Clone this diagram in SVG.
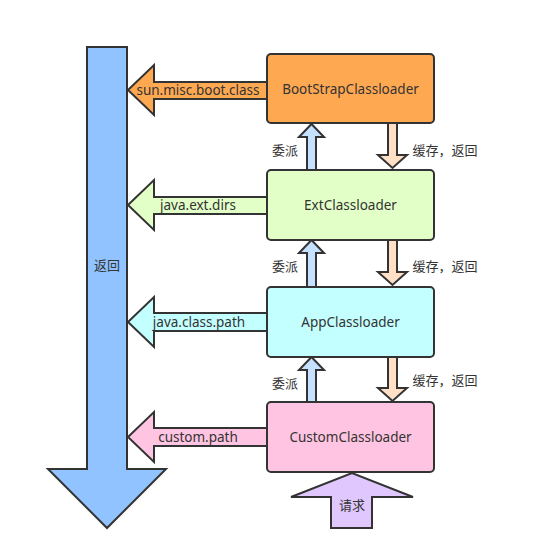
<svg xmlns="http://www.w3.org/2000/svg" width="557" height="560" viewBox="0 0 557 560">
<style>
.s{stroke:#333;stroke-width:2;stroke-linejoin:miter}
.t{font-family:"Noto Sans","Noto Sans CJK SC",sans-serif;font-size:13.5px;fill:#333;text-anchor:middle;dominant-baseline:central}
.c{font-size:13px}
.up{fill:#C6E0FF}
.dn{fill:#FFE0C6}
</style>
<rect width="557" height="560" fill="#fff"/>
<g id="connectors">
<g id="return">
<polygon class="s" fill="#90C3FF" points="87,47 127,47 127,469 166,469 107,528 48,469 87,469"/>
<text class="t c" x="107" y="265">返回</text>
</g>
<g id="a-boot">
<polygon class="s" fill="#FFA852" points="280,82 154,82 154,65 128,90 154,115 154,99 280,99"/>
<text class="t" x="198" y="90">sun.misc.boot.class</text>
</g>
<g id="a-ext">
<polygon class="s" fill="#E2FFC8" points="280,197 154,197 154,180 128,205 154,230 154,214 280,214"/>
<text class="t" x="198" y="205">java.ext.dirs</text>
</g>
<g id="a-app">
<polygon class="s" fill="#C4FFFF" points="280,313 154,313 154,297 128,322 154,347 154,331 280,331"/>
<text class="t" x="199" y="322">java.class.path</text>
</g>
<g id="a-custom">
<polygon class="s" fill="#FFC4E1" points="280,428 154,428 154,412 128,437 154,462 154,446 280,446"/>
<text class="t" x="198" y="437">custom.path</text>
</g>
<g id="deleg1">
<polygon class="s up" points="307,170 307,137 299,137 311.5,124 324,137 316,137 316,170"/>
<text class="t c" x="285" y="150">委派</text>
</g>
<g id="cache1">
<polygon class="s dn" points="388,123 397,123 397,155 407,155 392.5,168 378,155 388,155"/>
<text class="t c" x="445" y="150">缓存，返回</text>
</g>
<g id="deleg2">
<polygon class="s up" points="307,287 307,253 299,253 311.5,240 324,253 316,253 316,287"/>
<text class="t c" x="285" y="266">委派</text>
</g>
<g id="cache2">
<polygon class="s dn" points="388,240 397,240 397,272 407,272 392.5,285 378,272 388,272"/>
<text class="t c" x="445" y="266">缓存，返回</text>
</g>
<g id="deleg3">
<polygon class="s up" points="307,402 307,370 299,370 311.5,357 324,370 316,370 316,402"/>
<text class="t c" x="285" y="383">委派</text>
</g>
<g id="cache3">
<polygon class="s dn" points="388,357 397,357 397,388 407,388 392.5,401 378,388 388,388"/>
<text class="t c" x="445" y="380">缓存，返回</text>
</g>
<g id="request">
<polygon class="s" fill="#E0C8FF" points="331,528 331,497 291,497 352,473 413,497 372,497 372,528"/>
<text class="t c" x="352" y="505">请求</text>
</g>
</g>
<g id="boot">
<rect class="s" x="267" y="54" width="167" height="69" rx="4" fill="#FFA852"/>
<text class="t" x="350.5" y="89">BootStrapClassloader</text>
</g>
<g id="ext">
<rect class="s" x="267" y="170" width="167" height="70" rx="4" fill="#E2FFC8"/>
<text class="t" x="350.5" y="205">ExtClassloader</text>
</g>
<g id="app">
<rect class="s" x="267" y="287" width="167" height="70" rx="4" fill="#C4FFFF"/>
<text class="t" x="350.5" y="322">AppClassloader</text>
</g>
<g id="custom">
<rect class="s" x="267" y="402" width="167" height="70" rx="4" fill="#FFC4E1"/>
<text class="t" x="350.5" y="437">CustomClassloader</text>
</g>
</svg>
